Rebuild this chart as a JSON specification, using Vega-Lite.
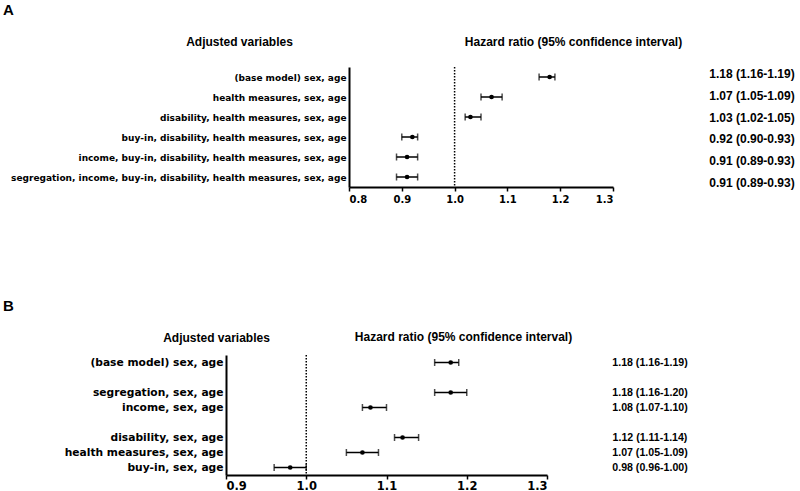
{
  "$schema": "https://vega.github.io/schema/vega-lite/v6.json",
  "padding": {"left": 3, "top": 2, "right": 0, "bottom": 0},
  "config": {
    "font": "Liberation Sans",
    "view": {"stroke": null},
    "axis": {"grid": false, "domainColor": "black", "domainWidth": 2, "tickColor": "black", "labelColor": "black", "labelFontWeight": "bold", "titleColor": "black", "titleFontWeight": "bold", "titleFontSize": 12, "titleFont": "Liberation Sans", "labelFont": "DejaVu Sans"}
  },
  "datasets": {
    "a": [
      {"label": "(base model) sex, age", "hr": 1.18, "lo": 1.16, "hi": 1.19, "ci": "1.18 (1.16-1.19)"},
      {"label": "health measures, sex, age", "hr": 1.07, "lo": 1.05, "hi": 1.09, "ci": "1.07 (1.05-1.09)"},
      {"label": "disability, health measures, sex, age", "hr": 1.03, "lo": 1.02, "hi": 1.05, "ci": "1.03 (1.02-1.05)"},
      {"label": "buy-in, disability, health measures, sex, age", "hr": 0.92, "lo": 0.90, "hi": 0.93, "ci": "0.92 (0.90-0.93)"},
      {"label": "income, buy-in, disability, health measures, sex, age", "hr": 0.91, "lo": 0.89, "hi": 0.93, "ci": "0.91 (0.89-0.93)"},
      {"label": "segregation, income, buy-in, disability, health measures, sex, age", "hr": 0.91, "lo": 0.89, "hi": 0.93, "ci": "0.91 (0.89-0.93)"}
    ],
    "b": [
      {"label": "(base model) sex, age", "hr": 1.18, "lo": 1.16, "hi": 1.19, "ci": "1.18 (1.16-1.19)"},
      {"label": "segregation, sex, age", "hr": 1.18, "lo": 1.16, "hi": 1.20, "ci": "1.18 (1.16-1.20)"},
      {"label": "income, sex, age", "hr": 1.08, "lo": 1.07, "hi": 1.10, "ci": "1.08 (1.07-1.10)"},
      {"label": "disability, sex, age", "hr": 1.12, "lo": 1.11, "hi": 1.14, "ci": "1.12 (1.11-1.14)"},
      {"label": "health measures, sex, age", "hr": 1.07, "lo": 1.05, "hi": 1.09, "ci": "1.07 (1.05-1.09)"},
      {"label": "buy-in, sex, age", "hr": 0.98, "lo": 0.96, "hi": 1.00, "ci": "0.98 (0.96-1.00)"}
    ]
  },
  "spacing": 94,
  "resolve": {"scale": {"x": "independent", "y": "independent"}},
  "vconcat": [
    {
      "title": {"text": "A", "anchor": "start", "frame": "bounds", "fontSize": 15, "fontWeight": "bold", "font": "Liberation Sans", "color": "black", "offset": 17.5},
      "bounds": "flush",
      "spacing": 94,
      "resolve": {"scale": {"x": "independent", "y": "independent"}},
      "hconcat": [
        {
          "data": {"values": [{}]},
          "width": 29,
          "height": 120,
          "mark": {"type": "point", "opacity": 0},
          "encoding": {}
        },
        {
          "width": 264,
          "height": 120,
          "layer": [
            {
              "data": {"values": [{}]},
              "mark": {"type": "rule", "strokeDash": [1.5, 1.5], "strokeWidth": 1.5, "color": "black"},
              "encoding": {"x": {"datum": 1, "type": "quantitative", "title": "Hazard ratio (95% confidence interval)"}}
            },
            {
              "data": {"name": "a"},
              "mark": {"type": "rule", "strokeWidth": 1.5, "color": "black"},
              "encoding": {
                "x": {"field": "lo", "type": "quantitative", "scale": {"domain": [0.8, 1.3], "nice": false, "zero": false},
                  "axis": {"title": "Hazard ratio (95% confidence interval)", "titleX": 224, "titleY": -146, "titleAlign": "center", "titleBaseline": "middle", "values": [0.8, 0.9, 1.0, 1.1, 1.2, 1.3], "format": ".1f", "labelFontSize": 10, "tickSize": 4, "tickWidth": 1.5, "labelPadding": 3}},
                "x2": {"field": "hi"},
                "y": {"field": "label", "type": "nominal", "sort": null,
                  "scale": {"type": "point", "padding": 0.5, "domain": ["(base model) sex, age", "health measures, sex, age", "disability, health measures, sex, age", "buy-in, disability, health measures, sex, age", "income, buy-in, disability, health measures, sex, age", "segregation, income, buy-in, disability, health measures, sex, age"]},
                  "axis": {"title": "Adjusted variables", "titleAngle": 0, "titleX": -110, "titleY": -26, "titleAlign": "center", "titleBaseline": "middle", "labelFontSize": 9, "ticks": false, "labelPadding": 3, "minExtent": 346, "labelLimit": 400}}
              }
            },
            {
              "data": {"name": "a"},
              "mark": {"type": "tick", "size": 7, "thickness": 1.5, "color": "black"},
              "encoding": {"x": {"field": "lo", "type": "quantitative", "title": "Hazard ratio (95% confidence interval)"}, "y": {"field": "label", "type": "nominal", "sort": null, "title": "Adjusted variables"}}
            },
            {
              "data": {"name": "a"},
              "mark": {"type": "tick", "size": 7, "thickness": 1.5, "color": "black"},
              "encoding": {"x": {"field": "hi", "type": "quantitative", "title": "Hazard ratio (95% confidence interval)"}, "y": {"field": "label", "type": "nominal", "sort": null, "title": "Adjusted variables"}}
            },
            {
              "data": {"name": "a"},
              "mark": {"type": "point", "filled": true, "size": 22, "color": "black", "opacity": 1},
              "encoding": {"x": {"field": "hr", "type": "quantitative", "title": "Hazard ratio (95% confidence interval)"}, "y": {"field": "label", "type": "nominal", "sort": null, "title": "Adjusted variables"}}
            }
          ]
        },
        {
          "data": {"name": "a"},
          "width": 90,
          "height": 123,
          "mark": {"type": "text", "fontSize": 12, "fontWeight": "bold", "color": "black"},
          "encoding": {
            "y": {"field": "label", "type": "nominal", "sort": null, "axis": null,
              "scale": {"type": "point", "padding": 0.32, "domain": ["(base model) sex, age", "health measures, sex, age", "disability, health measures, sex, age", "buy-in, disability, health measures, sex, age", "income, buy-in, disability, health measures, sex, age", "segregation, income, buy-in, disability, health measures, sex, age"]}},
            "text": {"field": "ci"}
          }
        }
      ]
    },
    {
      "title": {"text": "B", "anchor": "start", "frame": "bounds", "fontSize": 15, "fontWeight": "bold", "font": "Liberation Sans", "color": "black", "offset": 16.5},
      "bounds": "flush",
      "spacing": 58,
      "resolve": {"scale": {"x": "independent", "y": "independent"}},
      "hconcat": [
        {
          "width": 321,
          "height": 120,
          "layer": [
            {
              "data": {"values": [{}]},
              "mark": {"type": "rule", "strokeDash": [1.5, 1.5], "strokeWidth": 1.5, "color": "black"},
              "encoding": {"x": {"datum": 1, "type": "quantitative", "title": "Hazard ratio (95% confidence interval)"}}
            },
            {
              "data": {"name": "b"},
              "mark": {"type": "rule", "strokeWidth": 1.5, "color": "black"},
              "encoding": {
                "x": {"field": "lo", "type": "quantitative", "scale": {"domain": [0.9, 1.3], "nice": false, "zero": false},
                  "axis": {"title": "Hazard ratio (95% confidence interval)", "titleX": 237, "titleY": -139, "titleAlign": "center", "titleBaseline": "middle", "values": [0.9, 1.0, 1.1, 1.2, 1.3], "format": ".1f", "labelFontSize": 11.5, "tickSize": 4, "tickWidth": 1.5, "labelPadding": 1}},
                "x2": {"field": "hi"},
                "y": {"field": "label", "type": "nominal", "sort": null,
                  "scale": {"type": "point", "padding": 0.5, "domain": ["(base model) sex, age", " ", "segregation, sex, age", "income, sex, age", "  ", "disability, sex, age", "health measures, sex, age", "buy-in, sex, age"]},
                  "axis": {"title": "Adjusted variables", "titleAngle": 0, "titleX": -10, "titleY": -18, "titleAlign": "center", "titleBaseline": "middle", "labelFontSize": 10.7, "ticks": false, "labelPadding": 3, "minExtent": 223, "labelLimit": 400}}
              }
            },
            {
              "data": {"name": "b"},
              "mark": {"type": "tick", "size": 7, "thickness": 1.5, "color": "black"},
              "encoding": {"x": {"field": "lo", "type": "quantitative", "title": "Hazard ratio (95% confidence interval)"}, "y": {"field": "label", "type": "nominal", "sort": null, "title": "Adjusted variables"}}
            },
            {
              "data": {"name": "b"},
              "mark": {"type": "tick", "size": 7, "thickness": 1.5, "color": "black"},
              "encoding": {"x": {"field": "hi", "type": "quantitative", "title": "Hazard ratio (95% confidence interval)"}, "y": {"field": "label", "type": "nominal", "sort": null, "title": "Adjusted variables"}}
            },
            {
              "data": {"name": "b"},
              "mark": {"type": "point", "filled": true, "size": 22, "color": "black", "opacity": 1},
              "encoding": {"x": {"field": "hr", "type": "quantitative", "title": "Hazard ratio (95% confidence interval)"}, "y": {"field": "label", "type": "nominal", "sort": null, "title": "Adjusted variables"}}
            }
          ]
        },
        {
          "data": {"name": "b"},
          "width": 90,
          "height": 120,
          "mark": {"type": "text", "fontSize": 10.6, "fontWeight": "bold", "color": "black"},
          "encoding": {
            "y": {"field": "label", "type": "nominal", "sort": null, "axis": null,
              "scale": {"type": "point", "padding": 0.5, "domain": ["(base model) sex, age", " ", "segregation, sex, age", "income, sex, age", "  ", "disability, sex, age", "health measures, sex, age", "buy-in, sex, age"]}},
            "text": {"field": "ci"}
          }
        }
      ]
    }
  ]
}
